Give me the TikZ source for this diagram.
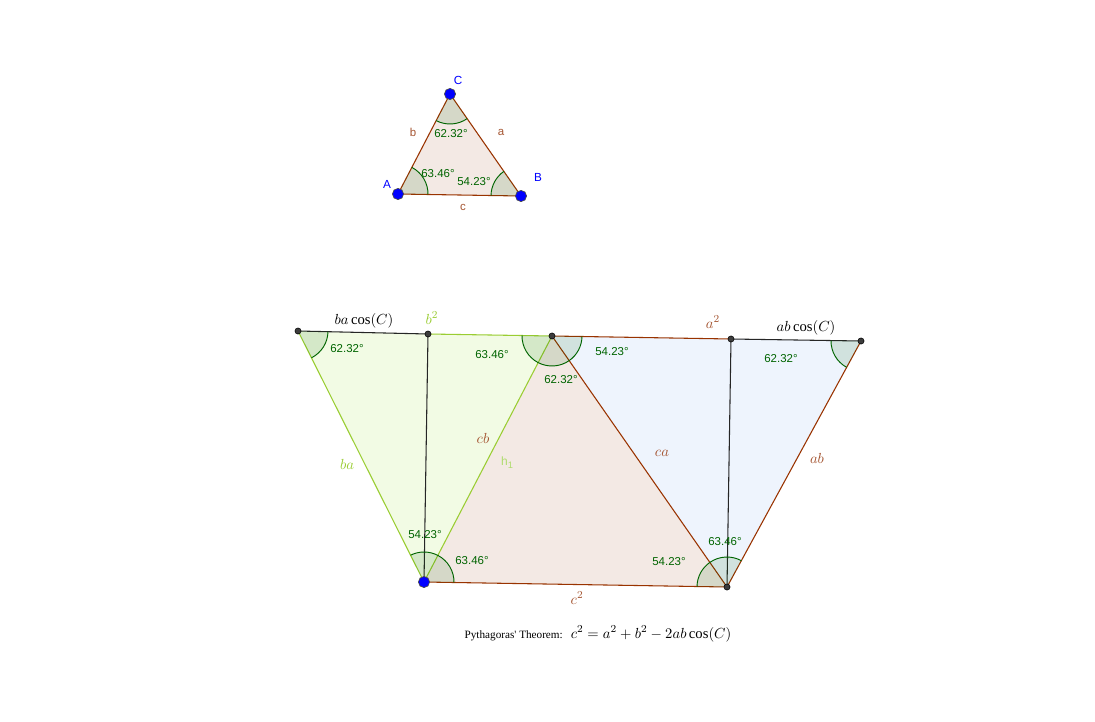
\documentclass[tikz,border=0pt]{standalone}
\usepackage{fontspec}
\setmainfont{Liberation Serif}
\newfontfamily\lsans{Liberation Sans}
\usetikzlibrary{angles}
\definecolor{ggbrown}{RGB}{153,51,0}
\definecolor{lblbrown}{RGB}{165,85,50}
\definecolor{gggreen}{RGB}{154,205,50}
\definecolor{hgreen}{RGB}{175,220,110}
\definecolor{angcol}{RGB}{0,100,0}
\definecolor{pinkfill}{RGB}{243,233,228}
\definecolor{greenfill}{RGB}{242,251,228}
\definecolor{bluefill}{RGB}{238,244,253}
\definecolor{ptblue}{RGB}{0,0,255}
\definecolor{ptdark}{RGB}{60,60,60}
\begin{document}
\begin{tikzpicture}[x=0.75pt,y=0.75pt,
  brownline/.style={draw=ggbrown,line width=0.8pt},
  greenline/.style={draw=gggreen,line width=0.8pt},
  blackline/.style={draw=black!85,line width=0.8pt},
  ang/.style={draw=angcol,line width=0.7pt,fill=angcol,fill opacity=0.12,angle radius=22.5pt},
  anglbl/.style={text=angcol,font=\lsans\fontsize{8.6}{10}\selectfont,inner sep=0pt},
  sidelbl/.style={text=lblbrown,font=\lsans\fontsize{8.6}{10}\selectfont,inner sep=0pt},
  ptlbl/.style={text=ptblue,font=\lsans\fontsize{8.8}{10}\selectfont,inner sep=0pt},
  mathlbl/.style={font=\fontsize{11}{13}\selectfont,inner sep=0pt},
  bluept/.style={circle,fill=ptblue,draw=black!70,line width=0.5pt,inner sep=0pt,minimum size=8.4pt},
  darkpt/.style={circle,fill=ptdark,draw=black,line width=0.4pt,inner sep=0pt,minimum size=4.6pt},
]
\fill[white] (0,0) rectangle (1095,-721);
\useasboundingbox (0,0) rectangle (1095,-721);

% small triangle
\coordinate (A) at (398,-194);
\coordinate (B) at (521,-196);
\coordinate (C) at (450,-94);
% big figure
\coordinate (P1) at (298,-331);
\coordinate (P2) at (428,-334);
\coordinate (P3) at (552,-336);
\coordinate (P4) at (731,-339);
\coordinate (P5) at (861,-341);
\coordinate (Q1) at (424,-582);
\coordinate (Q2) at (727,-587);

% fills
\fill[pinkfill] (A) -- (B) -- (C) -- cycle;
\fill[greenfill] (P1) -- (P3) -- (Q1) -- cycle;
\fill[pinkfill] (P3) -- (Q1) -- (Q2) -- cycle;
\fill[bluefill] (P3) -- (P5) -- (Q2) -- cycle;

% lines
\draw[brownline] (A) -- (B);
\draw[brownline] (B) -- (C);
\draw[brownline] (C) -- (A);
\draw[blackline] (P1) -- (P2);
\draw[greenline] (P2) -- (P3);
\draw[greenline] (P1) -- (Q1);
\draw[greenline] (P3) -- (Q1);
\draw[blackline] (P2) -- (Q1);
\draw[brownline] (P3) -- (P4);
\draw[blackline] (P4) -- (P5);
\draw[brownline] (P5) -- (Q2);
\draw[brownline] (P3) -- (Q2);
\draw[blackline] (P4) -- (Q2);
\draw[brownline] (Q1) -- (Q2);

% angles
\pic[ang] {angle = B--A--C};
\pic[ang] {angle = C--B--A};
\pic[ang] {angle = A--C--B};
\pic[ang] {angle = Q1--P1--P2};
\pic[ang] {angle = P1--P3--Q1};
\pic[ang] {angle = Q1--P3--Q2};
\pic[ang] {angle = Q2--P3--P5};
\pic[ang] {angle = P4--P5--Q2};
\pic[ang] {angle = P3--Q1--P1};
\pic[ang] {angle = Q2--Q1--P3};
\pic[ang] {angle = P3--Q2--Q1};
\pic[ang] {angle = P5--Q2--P3};

% points
\node[bluept] (nA) at (A) {};
\node[bluept] (nB) at (B) {};
\node[bluept] (nC) at (C) {};
\node[bluept] (nQ1) at (Q1) {};
\node[darkpt] (nP1) at (P1) {};
\node[darkpt] (nP2) at (P2) {};
\node[darkpt] (nP3) at (P3) {};
\node[darkpt] (nP4) at (P4) {};
\node[darkpt] (nP5) at (P5) {};
\node[darkpt] (nQ2) at (Q2) {};

% small triangle labels
\node[ptlbl] (lC) at (458,-80) {C};
\node[ptlbl] (lA) at (387,-184) {A};
\node[ptlbl] (lB) at (538,-177) {B};
\node[sidelbl] (lb) at (413,-132) {b};
\node[sidelbl] (la) at (501,-132) {a};
\node[sidelbl] (lc) at (463,-207) {c};
\node[anglbl] (tC) at (451,-134) {62.32°};
\node[anglbl] (tA) at (438,-174) {63.46°};
\node[anglbl] (tB) at (474,-182) {54.23°};

% big figure labels
\node[mathlbl,text=black] (lbacos) at (364,-321) {$ba\cos(C)$};
\node[mathlbl,text=gggreen] (lb2) at (432,-318) {$b^2$};
\node[mathlbl,text=lblbrown] (la2) at (713,-322) {$a^2$};
\node[mathlbl,text=black] (labcos) at (806,-328) {$ab\cos(C)$};
\node[mathlbl,text=gggreen] (lba) at (347,-464) {$ba$};
\node[mathlbl,text=lblbrown] (lcb) at (483,-438) {$cb$};
\node[text=hgreen,font=\lsans\fontsize{9}{10}\selectfont,inner sep=0pt] (lh1) at (507,-463) {h\raisebox{-0.45ex}{\fontsize{7}{8}\selectfont 1}};
\node[mathlbl,text=lblbrown] (lca) at (662,-453) {$ca$};
\node[mathlbl,text=lblbrown] (lab) at (817,-458) {$ab$};
\node[mathlbl,text=lblbrown] (lc2) at (577,-598) {$c^2$};

\node[anglbl] (g1) at (347,-349) {62.32°};
\node[anglbl] (g2) at (492,-355) {63.46°};
\node[anglbl] (g3) at (561,-380) {62.32°};
\node[anglbl] (g4) at (612,-352) {54.23°};
\node[anglbl] (g5) at (781,-359) {62.32°};
\node[anglbl] (g6) at (425,-535) {54.23°};
\node[anglbl] (g7) at (472,-561) {63.46°};
\node[anglbl] (g8) at (669,-562) {54.23°};
\node[anglbl] (g9) at (725,-542) {63.46°};

\node[inner sep=0pt,anchor=base] (thm) at (598,-638) {{\fontsize{8.4}{10}\selectfont Pythagoras\textquotesingle\ Theorem:}\hspace{6pt}\fontsize{11}{13}\selectfont $c^2=a^2+b^2-2ab\cos(C)$};
\end{tikzpicture}
\end{document}
